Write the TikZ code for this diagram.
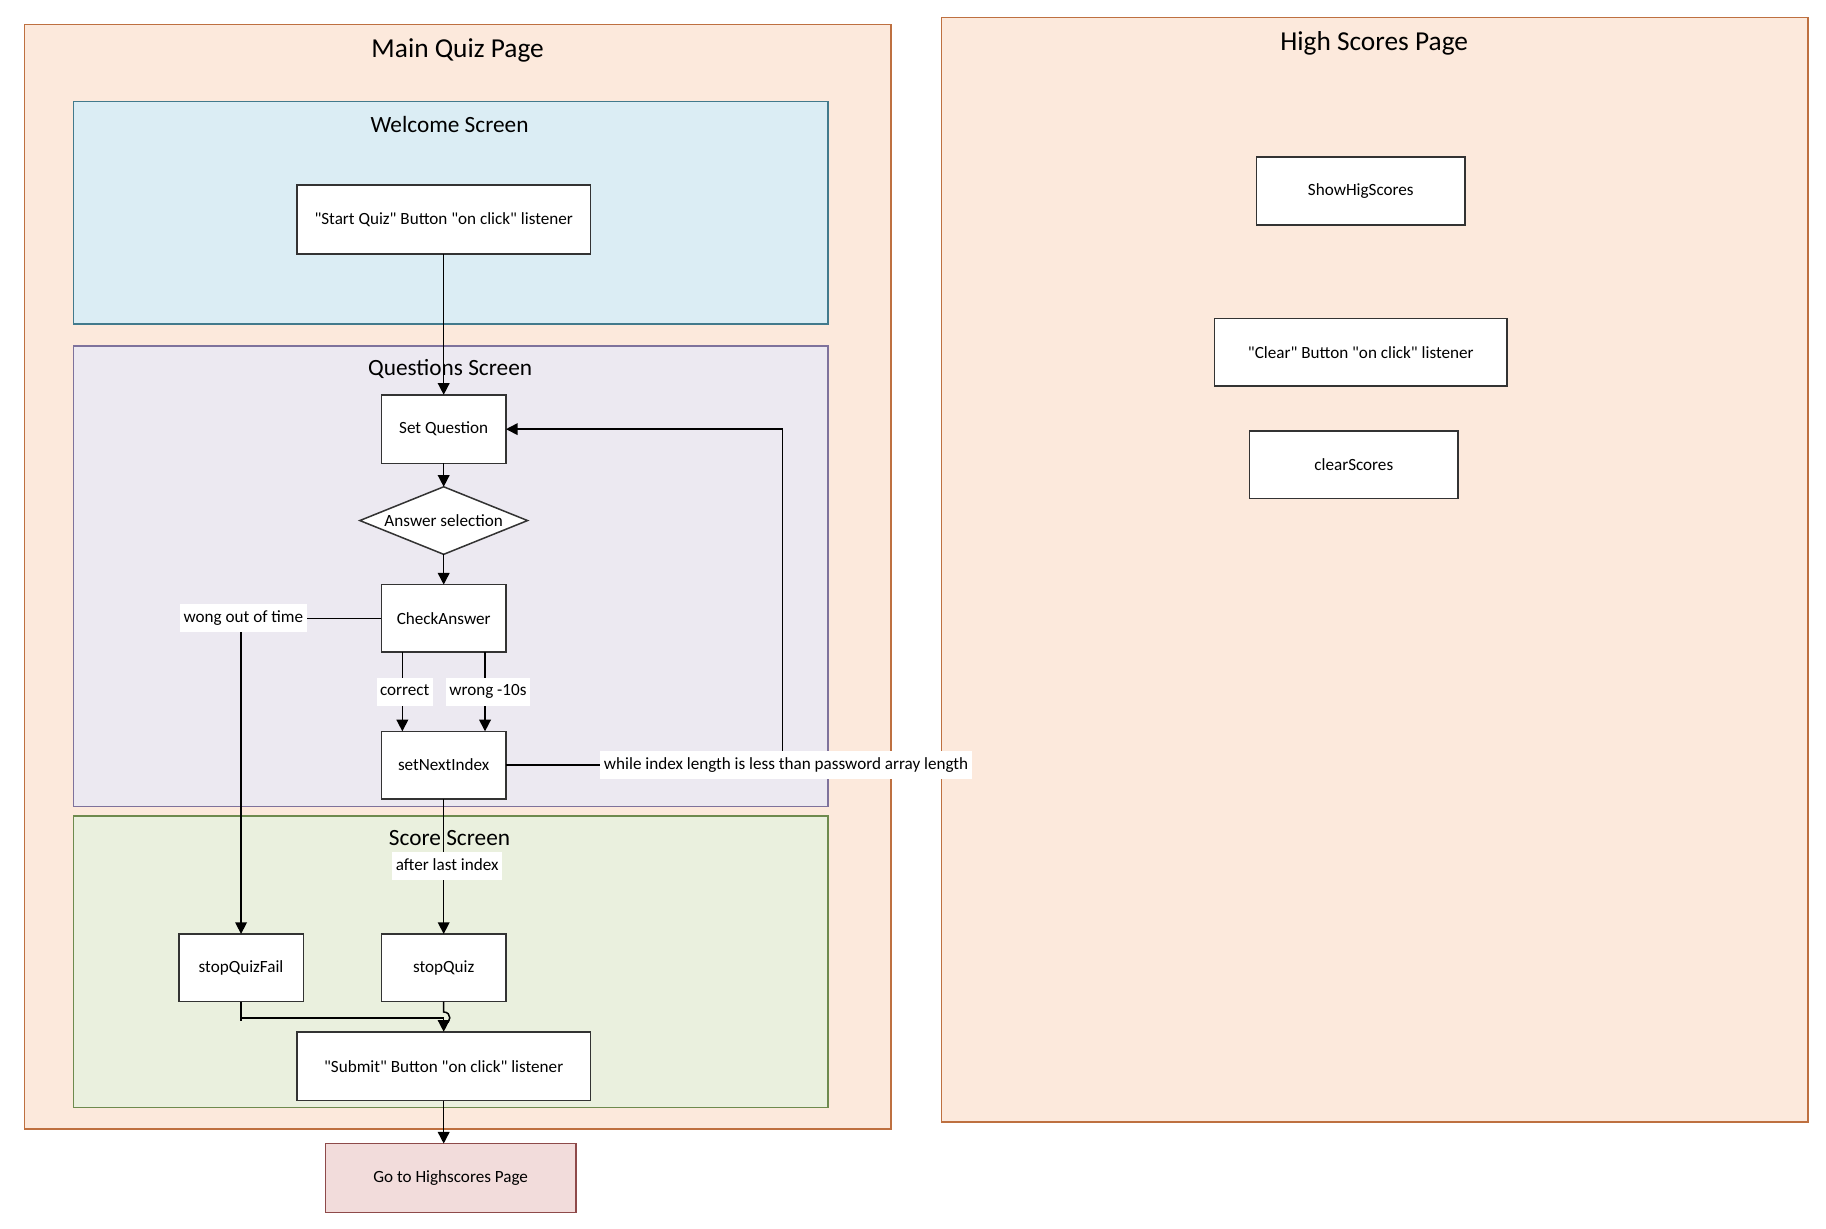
\documentclass[tikz,border=0pt]{standalone}
\usepackage{fontspec}
\setmainfont{Carlito}
\newfontfamily\calfont{Carlito}
\usetikzlibrary{shapes.geometric,arrows.meta,calc}
\definecolor{pagefill}{HTML}{FCE9DC}
\definecolor{pagedraw}{HTML}{BE7040}
\definecolor{wsfill}{HTML}{DBEDF4}
\definecolor{wsdraw}{HTML}{427A8C}
\definecolor{qsfill}{HTML}{ECE9F1}
\definecolor{qsdraw}{HTML}{7E729C}
\definecolor{ssfill}{HTML}{EAF0DE}
\definecolor{ssdraw}{HTML}{6E8A4E}
\definecolor{gofill}{HTML}{F2DCDB}
\definecolor{godraw}{HTML}{8E4A4A}
\definecolor{boxdraw}{HTML}{333333}
\begin{document}
\begin{tikzpicture}[x=1pt,y=-1pt,font=\calfont,
  page/.style={draw=pagedraw,fill=pagefill,line width=1.6pt,inner sep=0,outer sep=0,anchor=north west},
  cont/.style={line width=1.4pt,inner sep=0,outer sep=0,anchor=north west},
  pagetitle/.style={font=\calfont\fontsize{23.5}{28}\selectfont,inner sep=0},
  conttitle/.style={font=\calfont\fontsize{20}{24}\selectfont,inner sep=0},
  box/.style={draw=boxdraw,fill=white,line width=1.3pt,inner sep=0,outer sep=0,
    minimum width=107,minimum height=58,font=\calfont\fontsize{14.7}{17}\selectfont},
  lbl/.style={fill=white,inner xsep=3,inner ysep=5,text height=10.5,text depth=3.5,
    font=\calfont\fontsize{14.7}{17}\selectfont},
  arr/.style={line width=1.3pt,-{Triangle[width=10pt,length=10pt]}},
  ln/.style={line width=1.3pt}]
\useasboundingbox (0,0) rectangle (1568,1055);

% containers
\node[page,minimum width=744,minimum height=948.5] (mqp) at (21,21) {};
\node[page,minimum width=744,minimum height=948.5] (hsp) at (808.5,15) {};
\node[cont,draw=wsdraw,fill=wsfill,minimum width=648,minimum height=191] (ws) at (63,87) {};
\node[cont,draw=qsdraw,fill=qsfill,minimum width=648,minimum height=395.5] (qs) at (63,297) {};
\node[cont,draw=ssdraw,fill=ssfill,minimum width=648,minimum height=250.5] (ss) at (63,700.5) {};

% titles
\node[pagetitle] (tmqp) at (393,43) {Main Quiz Page};
\node[pagetitle] (thsp) at (1180,37) {High Scores Page};
\node[conttitle] (tws) at (386,107) {Welcome Screen};
\node[conttitle] (tqs) at (386.5,317) {Questions Screen};
\node[conttitle] (tss) at (386,720) {Score Screen};

% boxes
\node[box,minimum width=252,minimum height=59] (start) at (381,188.5) {"Start Quiz" Button "on click" listener};
\node[box,minimum height=59] (sq) at (381,368.5) {Set Question};
\node[box,shape=diamond,minimum width=144,minimum height=58] (ans) at (381,447) {\makebox[0pt]{Answer selection}};
\node[box] (ca) at (381,531) {CheckAnswer};
\node[box] (sni) at (381,657) {setNextIndex};
\node[box] (sqf) at (207,831) {stopQuizFail};
\node[box] (sqz) at (381,831) {stopQuiz};
\node[box,minimum width=252,minimum height=59] (sub) at (381,915.5) {"Submit" Button "on click" listener};
\node[box,draw=godraw,fill=gofill,minimum width=215,minimum height=59] (go) at (387,1011.5) {Go to Highscores Page};
\node[box,minimum width=179] (shs) at (1168.5,164) {ShowHigScores};
\node[box,minimum width=251] (clr) at (1168.5,302.5) {"Clear" Button "on click" listener};
\node[box,minimum width=179] (cls) at (1162.5,399) {clearScores};

% connectors
\draw[arr] (start.south) -- (sq.north);
\draw[arr] (sq.south) -- (ans.north);
\draw[arr] (ans.south) -- (ca.north);
\draw[arr] (ca.west) -| node[lbl,pos=0.5,xshift=2pt] {wong out of time} (sqf.north);
\draw[arr] ([xshift=18pt]ca.south west) -- node[lbl,pos=0.5,xshift=2pt] {correct} ([xshift=18pt]sni.north west);
\draw[arr] ([xshift=-18pt]ca.south east) -- node[lbl,pos=0.5,xshift=2.5pt] {wrong -10s} ([xshift=-18pt]sni.north east);
\coordinate (loopc) at (672,657);
\draw[arr] (sni.east) -- (loopc) |- (sq.east);
\node[lbl] (wlbl) at (675,657) {while index length is less than password array length};
\draw[arr] (sni.south) -- node[lbl,pos=0.5,xshift=3pt] {after last index} (sqz.north);
\coordinate (j1) at (207,874);
\coordinate (j2) at (381,874);
\draw[arr] (sqf.south) -- (j1) -- (j2) -- (sub.north);
\draw[ln] (j1) -- ++(0,3);
\draw[ln] (sqz.south) -- (381,869) .. controls (388,869) and (388,879) .. (381,879);
\draw[arr] (sub.south) -- (sub.south |- go.north);
\end{tikzpicture}
\end{document}
